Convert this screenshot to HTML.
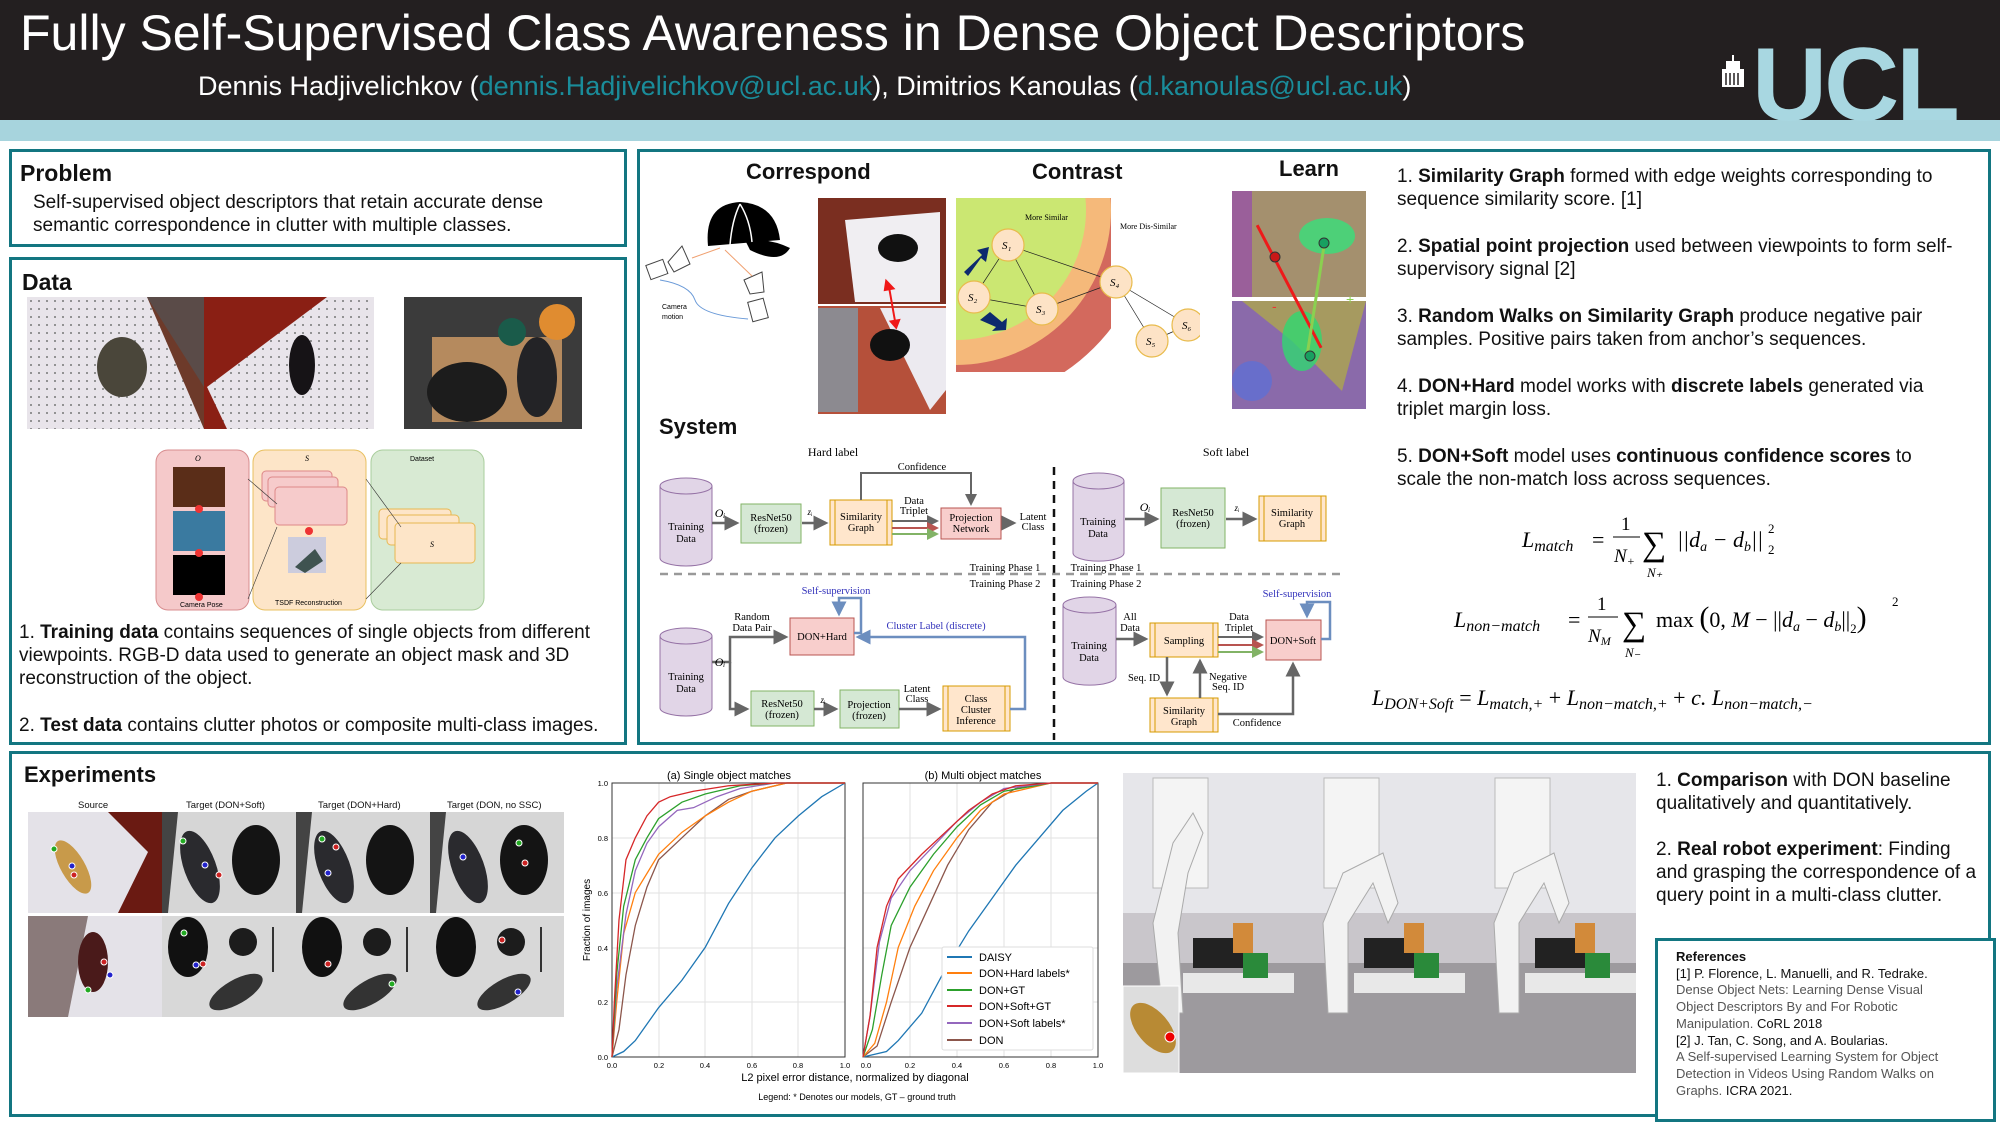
<!DOCTYPE html>
<html><head><meta charset="utf-8">
<style>
*{margin:0;padding:0;box-sizing:border-box}
body{width:2000px;height:1125px;overflow:hidden;background:#fff;font-family:"Liberation Sans",Arial,sans-serif;position:relative;color:#111}
.a{position:absolute}
.box{position:absolute;border:3px solid #137681;background:#fff}
.t{position:absolute;white-space:nowrap}
.h{font-weight:bold;font-size:23px}
.p{font-size:19px;line-height:23px;white-space:normal}
.m{font-family:"Liberation Serif",serif;font-style:italic}
a{color:#1a8c9a}
</style></head><body>
<!-- header -->
<div class="a" style="left:0;top:0;width:2000px;height:120px;background:#231f20"></div>
<div class="a" style="left:0;top:120px;width:2000px;height:21px;background:#a7d4dd"></div>
<div class="t" style="left:20px;top:4px;font-size:50px;color:#fff">Fully Self-Supervised Class Awareness in Dense Object Descriptors</div>
<div class="t" style="left:198px;top:71px;font-size:27px;color:#fff">Dennis Hadjivelichkov (<a>dennis.Hadjivelichkov@ucl.ac.uk</a>), Dimitrios Kanoulas (<a>d.kanoulas@ucl.ac.uk</a>)</div>
<div class="t" style="left:1752px;top:30px;font-size:104px;font-weight:bold;color:#a8d7e1;letter-spacing:-3px;line-height:110px">UCL</div>
<svg class="a" style="left:1720px;top:55px" width="26" height="32"><rect x="2" y="14" width="22" height="18" fill="#fff"/><rect x="6" y="6" width="14" height="9" fill="#fff"/><rect x="12" y="0" width="2" height="7" fill="#fff"/><g stroke="#231f20" stroke-width="1.5"><line x1="6" y1="18" x2="6" y2="30"/><line x1="10" y1="18" x2="10" y2="30"/><line x1="14" y1="18" x2="14" y2="30"/><line x1="18" y1="18" x2="18" y2="30"/></g></svg>

<!-- Problem -->
<div class="box" style="left:9px;top:149px;width:618px;height:98px"></div>
<div class="t h" style="left:20px;top:160px">Problem</div>
<div class="t p" style="left:33px;top:191px">Self-supervised object descriptors that retain accurate dense<br>semantic correspondence in clutter with multiple classes.</div>

<!-- Data -->
<div class="box" style="left:9px;top:257px;width:618px;height:488px"></div>
<div class="t h" style="left:22px;top:269px">Data</div>
<svg class="a" style="left:27px;top:297px" width="560" height="134">
 <defs><pattern id="dots" width="8" height="8" patternUnits="userSpaceOnUse"><rect width="8" height="8" fill="#e8e4ea"/><circle cx="4" cy="4" r="1" fill="#777"/></pattern></defs>
 <rect x="0" y="0" width="177" height="132" fill="#6d3a2a"/>
 <polygon points="0,0 120,0 177,132 0,132" fill="url(#dots)"/>
 <polygon points="120,0 177,0 177,90" fill="#5a4b48"/>
 <ellipse cx="95" cy="70" rx="25" ry="30" fill="#4a463a"/>
 <rect x="177" y="0" width="170" height="132" fill="#8a1f14"/>
 <polygon points="180,90 300,0 347,0 347,132 200,132" fill="url(#dots)"/>
 <ellipse cx="275" cy="68" rx="13" ry="30" fill="#161316"/>
 <rect x="377" y="0" width="178" height="132" fill="#3b3b3b"/>
 <rect x="405" y="40" width="130" height="85" fill="#b58a5e"/>
 <ellipse cx="440" cy="95" rx="40" ry="30" fill="#1c1c1c"/>
 <ellipse cx="510" cy="80" rx="20" ry="40" fill="#232326"/>
 <circle cx="530" cy="25" r="18" fill="#e08c30"/><circle cx="485" cy="35" r="14" fill="#1a5b4a"/>
</svg>
<svg class="a" style="left:155px;top:449px" width="332" height="164" font-family="Liberation Sans" font-size="8">
 <rect x="1" y="1" width="93" height="160" rx="12" fill="#f5c9ca" stroke="#d88d8f"/>
 <rect x="98" y="1" width="113" height="160" rx="12" fill="#fde5c8" stroke="#e8c060"/>
 <rect x="216" y="1" width="113" height="160" rx="12" fill="#d8ead3" stroke="#a9cd9c"/>
 <rect x="18" y="18" width="52" height="40" fill="#5a2d18"/><rect x="18" y="62" width="52" height="40" fill="#3a7aa0"/><rect x="18" y="106" width="52" height="40" fill="#000"/>
 <circle cx="44" cy="60" r="4" fill="#e33"/><circle cx="44" cy="104" r="4" fill="#e33"/><circle cx="44" cy="148" r="4" fill="#e33"/>
 <text x="25" y="158" font-size="7">Camera Pose</text><text x="40" y="12" class="m">O</text>
 <rect x="107" y="22" width="70" height="30" rx="4" fill="#f6cbcb" stroke="#d88"/><rect x="113" y="28" width="70" height="30" rx="4" fill="#f6cbcb" stroke="#d88"/><rect x="120" y="38" width="72" height="38" rx="4" fill="#f6cbcb" stroke="#d88"/>
 <rect x="133" y="88" width="38" height="36" fill="#ccd"/><polygon points="140,118 160,100 168,112 150,124" fill="#3f5350"/>
 <text x="120" y="156" font-size="7">TSDF Reconstruction</text><text x="150" y="12" class="m">S</text>
 <circle cx="154" cy="82" r="4" fill="#e33"/>
 <rect x="224" y="60" width="72" height="30" rx="4" fill="#fde5c8" stroke="#e8b850"/><rect x="232" y="66" width="72" height="30" rx="4" fill="#fde5c8" stroke="#e8b850"/><rect x="240" y="74" width="80" height="40" rx="4" fill="#fde5c8" stroke="#e8b850"/>
 <text x="255" y="12" font-size="7">Dataset</text><text x="275" y="98" class="m">S</text>
 <g stroke="#333" stroke-width="0.6"><line x1="93" y1="30" x2="122" y2="55"/><line x1="93" y1="150" x2="122" y2="78"/><line x1="211" y1="30" x2="246" y2="78"/><line x1="211" y1="150" x2="246" y2="114"/></g>
</svg>
<div class="t p" style="left:19px;top:621px;width:600px">1. <b>Training data</b> contains sequences of single objects from different viewpoints. RGB-D data used to generate an object mask and 3D reconstruction of the object.</div>
<div class="t p" style="left:19px;top:714px">2. <b>Test data</b> contains clutter photos or composite multi-class images.</div>

<!-- Middle -->
<div class="box" style="left:637px;top:149px;width:1354px;height:596px"></div>
<div class="t" style="left:746px;top:159px;font-size:22px;font-weight:bold">Correspond</div>
<div class="t" style="left:1032px;top:159px;font-size:22px;font-weight:bold">Contrast</div>
<div class="t" style="left:1279px;top:156px;font-size:22px;font-weight:bold">Learn</div>
<svg class="a" style="left:640px;top:190px" width="560" height="230" font-family="Liberation Sans">
 <path d="M68,56 Q64,14 100,12 Q136,14 140,50 Z" fill="#000"/><path d="M105,50 Q130,48 150,58 Q140,75 110,60 Z" fill="#000"/>
 <g stroke="#fff" stroke-width="1.5" fill="none"><path d="M100,14 Q92,30 90,55"/><path d="M100,14 Q110,30 112,52"/></g>
 <g fill="none" stroke="#444" stroke-width="1"><rect x="8" y="72" width="18" height="15" transform="rotate(-20 17 80)"/><polygon points="28,72 42,56 50,74 34,82"/><polygon points="104,90 122,82 124,102 110,104"/><rect x="110" y="110" width="16" height="20" transform="rotate(-15 118 120)"/></g>
 <path d="M20,90 Q50,95 55,110 Q60,125 108,129" fill="none" stroke="#6a9ad8"/>
 <line x1="52" y1="68" x2="80" y2="58" stroke="#f0a070"/><line x1="112" y1="86" x2="85" y2="60" stroke="#f0a070"/>
 <text x="22" y="119" font-size="7">Camera</text><text x="22" y="129" font-size="7">motion</text>
 <rect x="178" y="8" width="128" height="106" fill="#7a2e20"/><polygon points="205,30 300,22 300,112 215,112" fill="#f0eef2"/><ellipse cx="258" cy="58" rx="20" ry="14" fill="#111"/>
 <rect x="178" y="116" width="128" height="108" fill="#b5503a"/><polygon points="240,118 306,118 306,200 290,220" fill="#eceaf0"/><rect x="178" y="118" width="40" height="104" fill="#8c8a90"/><ellipse cx="250" cy="155" rx="20" ry="16" fill="#111"/>
 <polygon points="250,88 246,100 251,100 251,130 246,130 252,140 258,130 253,130 253,100 258,100" fill="#f01818" transform="rotate(-10 252 114)"/>
 <rect x="315" y="8" width="245" height="175" fill="#fff"/>
 <clipPath id="cc"><rect x="316" y="8" width="155" height="174"/></clipPath>
 <g clip-path="url(#cc)"><circle cx="316" cy="20" r="195" fill="#d3695d"/><circle cx="316" cy="20" r="155" fill="#f5b97a"/><circle cx="316" cy="20" r="130" fill="#cbe772"/></g>
 <text x="385" y="30" font-family="Liberation Serif" font-size="8">More Similar</text><text x="480" y="39" font-family="Liberation Serif" font-size="8">More Dis-Similar</text>
 <g stroke="#222" stroke-width="0.7"><line x1="368" y1="55" x2="334" y2="107"/><line x1="368" y1="55" x2="402" y2="119"/><line x1="368" y1="55" x2="476" y2="92"/><line x1="334" y1="107" x2="402" y2="119"/><line x1="402" y1="119" x2="476" y2="92"/><line x1="476" y1="92" x2="512" y2="151"/><line x1="476" y1="92" x2="548" y2="135"/><line x1="512" y1="151" x2="548" y2="135"/></g>
 <g fill="#fde3c6" stroke="#e8bb4c" stroke-width="1.2"><circle cx="368" cy="55" r="16"/><circle cx="334" cy="107" r="16"/><circle cx="402" cy="119" r="16"/><circle cx="476" cy="92" r="16"/><circle cx="512" cy="151" r="16"/><circle cx="548" cy="135" r="16"/></g>
 <g font-family="Liberation Serif" font-style="italic" font-size="11"><text x="362" y="59">S₁</text><text x="328" y="111">S₂</text><text x="396" y="123">S₃</text><text x="470" y="96">S₄</text><text x="506" y="155">S₅</text><text x="542" y="139">S₆</text></g>
 <polygon points="330,82 348,65 343,60 355,57 352,72 347,68 334,86" fill="#0d2a6e" transform="translate(-6,0)"/>
 <polygon points="340,130 350,122 362,132 367,128 366,140 352,141 356,137" fill="#0d2a6e"/>
</svg>
<svg class="a" style="left:1232px;top:191px" width="134" height="218">
 <rect x="0" y="0" width="134" height="106" fill="#a4906e"/><rect x="0" y="0" width="20" height="106" fill="#9a5f9a"/><ellipse cx="95" cy="45" rx="28" ry="18" fill="#37e07a" opacity="0.8"/>
 <rect x="0" y="110" width="134" height="108" fill="#8a6aaa"/><polygon points="10,110 134,110 110,200 60,150" fill="#a69a60"/><ellipse cx="70" cy="150" rx="20" ry="30" fill="#30d870" opacity="0.8"/><ellipse cx="20" cy="190" rx="20" ry="20" fill="#5a70d8" opacity="0.7"/>
 <line x1="42" y1="28" x2="72" y2="163" stroke="#ee1a1a" stroke-width="3" transform="rotate(-15 57 95)"/>
 <line x1="75" y1="165" x2="92" y2="55" stroke="#8bd050" stroke-width="3"/>
 <circle cx="43" cy="66" r="5" fill="#c81818" stroke="#333"/><circle cx="92" cy="52" r="5" fill="#18a060" stroke="#333"/><circle cx="78" cy="165" r="5" fill="#18a060" stroke="#333"/>
 <text x="40" y="120" fill="#e33" font-size="14">-</text><text x="114" y="113" fill="#8bd050" font-size="14">+</text>
</svg>
<div class="t" style="left:659px;top:414px;font-size:22px;font-weight:bold">System</div>

<!-- system diagram -->
<svg class="a" style="left:0;top:0" width="1400" height="750" font-family="Liberation Serif" font-size="10.5" text-anchor="middle">
 <defs><marker id="ag" markerWidth="6" markerHeight="6" refX="5" refY="3" orient="auto"><path d="M0,0 L6,3 L0,6z" fill="#666"/></marker>
 <marker id="ab" markerWidth="6" markerHeight="6" refX="5" refY="3" orient="auto"><path d="M0,0 L6,3 L0,6z" fill="#6c8ebf"/></marker>
 <marker id="ar" markerWidth="6" markerHeight="6" refX="5" refY="3" orient="auto"><path d="M0,0 L6,3 L0,6z" fill="#b85450"/></marker>
 <marker id="agr" markerWidth="6" markerHeight="6" refX="5" refY="3" orient="auto"><path d="M0,0 L6,3 L0,6z" fill="#82b366"/></marker></defs>
 <text x="833" y="456" font-size="12">Hard label</text><text x="1226" y="456" font-size="12">Soft label</text>
 <line x1="1054" y1="467" x2="1054" y2="740" stroke="#111" stroke-width="2.5" stroke-dasharray="8,6"/>
 <line x1="660" y1="574" x2="1340" y2="574" stroke="#999" stroke-width="2.5" stroke-dasharray="8,6"/>
 <text x="1005" y="571">Training Phase 1</text><text x="1005" y="587">Training Phase 2</text>
 <text x="1106" y="571">Training Phase 1</text><text x="1106" y="587">Training Phase 2</text>
 <g fill="#e1d5e7" stroke="#9673a6">
  <path d="M660,486 v72 a26,8 0 0 0 52,0 v-72"/><ellipse cx="686" cy="486" rx="26" ry="8"/>
  <path d="M1073,481 v72 a25,8 0 0 0 51,0 v-72"/><ellipse cx="1098.5" cy="481" rx="25.5" ry="8"/>
  <path d="M660,636 v72 a26,8 0 0 0 52,0 v-72"/><ellipse cx="686" cy="636" rx="26" ry="8"/>
  <path d="M1063,605 v72 a26,8 0 0 0 53,0 v-72"/><ellipse cx="1089.5" cy="605" rx="26.5" ry="8"/>
 </g>
 <text x="686" y="530">Training</text><text x="686" y="542">Data</text>
 <text x="1098" y="525">Training</text><text x="1098" y="537">Data</text>
 <text x="686" y="680">Training</text><text x="686" y="692">Data</text>
 <text x="1089" y="649">Training</text><text x="1089" y="661">Data</text>
 <g fill="#d5e8d4" stroke="#82b366"><rect x="741" y="504" width="60" height="39"/><rect x="1161" y="488" width="64" height="60"/><rect x="751" y="691" width="63" height="35"/><rect x="840" y="690" width="59" height="38"/></g>
 <g fill="#ffe6cc" stroke="#d79b00"><rect x="830" y="500" width="62" height="45"/><rect x="1259" y="496" width="67" height="45"/><rect x="943" y="686" width="67" height="45"/><rect x="1150" y="623" width="68" height="34"/><rect x="1150" y="698" width="68" height="34"/></g>
 <g stroke="#d79b00" fill="none"><path d="M835,500v45M887,500v45M1264,496v45M1321,496v45M948,686v45M1005,686v45M1155,623v34M1213,623v34M1155,698v34M1213,698v34"/></g>
 <g fill="#f8cecc" stroke="#b85450"><rect x="941" y="508" width="60" height="31"/><rect x="790" y="618" width="64" height="37"/><rect x="1266" y="620" width="55" height="40"/></g>
 <text x="771" y="521">ResNet50</text><text x="771" y="532">(frozen)</text>
 <text x="861" y="520">Similarity</text><text x="861" y="531">Graph</text>
 <text x="971" y="521">Projection</text><text x="971" y="532">Network</text>
 <text x="1193" y="516">ResNet50</text><text x="1193" y="527">(frozen)</text>
 <text x="1292" y="516">Similarity</text><text x="1292" y="527">Graph</text>
 <text x="822" y="640">DON+Hard</text>
 <text x="782" y="707">ResNet50</text><text x="782" y="718">(frozen)</text>
 <text x="869" y="708">Projection</text><text x="869" y="719">(frozen)</text>
 <text x="976" y="702">Class</text><text x="976" y="713">Cluster</text><text x="976" y="724">Inference</text>
 <text x="1184" y="644">Sampling</text><text x="1293" y="644">DON+Soft</text>
 <text x="1184" y="714">Similarity</text><text x="1184" y="725">Graph</text>
 <g stroke="#666" stroke-width="3" fill="none">
  <line x1="712" y1="523" x2="737" y2="523" marker-end="url(#ag)" stroke-width="2.5"/>
  <line x1="802" y1="523" x2="826" y2="523" marker-end="url(#ag)" stroke-width="2.5"/>
  <path d="M861,500 V473 H971 V504" marker-end="url(#ag)" stroke-width="2"/>
  <line x1="892" y1="521" x2="937" y2="521" marker-end="url(#ag)" stroke-width="2"/>
  <line x1="1002" y1="523" x2="1014" y2="523" marker-end="url(#ag)" stroke-width="2.5"/>
  <line x1="1125" y1="519" x2="1157" y2="519" marker-end="url(#ag)" stroke-width="2.5"/>
  <line x1="1226" y1="519" x2="1255" y2="519" marker-end="url(#ag)" stroke-width="2.5"/>
  <path d="M712,662 H730 V637 H786" marker-end="url(#ag)" stroke-width="2.5"/>
  <path d="M730,662 V709 H747" marker-end="url(#ag)" stroke-width="2.5"/>
  <line x1="814" y1="709" x2="836" y2="709" marker-end="url(#ag)" stroke-width="2.5"/>
  <line x1="899" y1="709" x2="939" y2="709" marker-end="url(#ag)" stroke-width="2.5"/>
  <line x1="1116" y1="639" x2="1146" y2="639" marker-end="url(#ag)" stroke-width="2.5"/>
  <line x1="1218" y1="637" x2="1262" y2="637" marker-end="url(#ag)" stroke-width="2"/>
  <line x1="1167" y1="657" x2="1167" y2="694" marker-end="url(#ag)" stroke-width="2.5"/>
  <line x1="1200" y1="698" x2="1200" y2="661" marker-end="url(#ag)" stroke-width="2.5"/>
  <path d="M1218,714 H1293 V664" marker-end="url(#ag)" stroke-width="2.5"/>
 </g>
 <line x1="892" y1="528" x2="937" y2="528" stroke="#b85450" stroke-width="2" marker-end="url(#ar)"/>
 <line x1="892" y1="534" x2="937" y2="534" stroke="#82b366" stroke-width="2" marker-end="url(#agr)"/>
 <line x1="1218" y1="645" x2="1262" y2="645" stroke="#b85450" stroke-width="2" marker-end="url(#ar)"/>
 <line x1="1218" y1="652" x2="1262" y2="652" stroke="#82b366" stroke-width="2" marker-end="url(#agr)"/>
 <g stroke="#6c8ebf" stroke-width="2.5" fill="none">
  <path d="M854,633 H861 V598 H839 V614" marker-end="url(#ab)"/>
  <path d="M1010,709 H1025 V637 H858" marker-end="url(#ab)"/>
  <path d="M1321,639 H1330 V602 H1307 V616" marker-end="url(#ab)"/>
 </g>
 <g fill="#3333bb"><text x="836" y="594">Self-supervision</text><text x="936" y="629">Cluster Label (discrete)</text><text x="1297" y="597">Self-supervision</text></g>
 <text x="922" y="470">Confidence</text>
 <text x="914" y="504">Data</text><text x="914" y="514">Triplet</text>
 <text x="1033" y="520">Latent</text><text x="1033" y="530">Class</text>
 <text x="752" y="620">Random</text><text x="752" y="631">Data Pair</text>
 <text x="917" y="692">Latent</text><text x="917" y="702">Class</text>
 <text x="1130" y="620">All</text><text x="1130" y="631">Data</text>
 <text x="1239" y="620">Data</text><text x="1239" y="631">Triplet</text>
 <text x="1144" y="681">Seq. ID</text><text x="1228" y="680">Negative</text><text x="1228" y="690">Seq. ID</text>
 <text x="1257" y="726">Confidence</text>
 <g font-style="italic" font-size="12"><text x="720" y="517">Oᵢ</text><text x="1145" y="511">Oᵢ</text><text x="720" y="666">Oᵢ</text></g>
 <g font-style="italic" font-size="9"><text x="810" y="515">zᵢ</text><text x="1237" y="511">zᵢ</text><text x="823" y="703">zᵢ</text></g>
</svg>

<!-- right text -->
<div class="t p" style="left:1397px;top:165px;width:565px">1. <b>Similarity Graph</b> formed with edge weights corresponding to sequence similarity score. [1]</div>
<div class="t p" style="left:1397px;top:235px;width:575px">2. <b>Spatial point projection</b> used between viewpoints to form self-supervisory signal [2]</div>
<div class="t p" style="left:1397px;top:305px;width:565px">3. <b>Random Walks on Similarity Graph</b> produce negative pair samples. Positive pairs taken from anchor’s sequences.</div>
<div class="t p" style="left:1397px;top:375px;width:545px">4. <b>DON+Hard</b> model works with <b>discrete labels</b> generated via triplet margin loss.</div>
<div class="t p" style="left:1397px;top:445px;width:545px">5. <b>DON+Soft</b> model uses <b>continuous confidence scores</b> to scale the non-match loss across sequences.</div>
<svg class="a" style="left:1370px;top:500px" width="620" height="220" font-family="Liberation Serif" font-size="22">
 <text x="152" y="47" font-style="italic">L<tspan font-size="16" dy="4">match</tspan></text>
 <text x="222" y="47">=</text>
 <text x="251" y="30" font-size="19">1</text><line x1="243" y1="37" x2="270" y2="37" stroke="#000"/><text x="244" y="62" font-style="italic" font-size="19">N<tspan font-size="12" dy="3">+</tspan></text>
 <text x="272" y="55" font-size="34">∑</text><text x="277" y="77" font-style="italic" font-size="13">N₊</text>
 <text x="307" y="47" font-style="italic">||d<tspan font-size="14" dy="4">a</tspan><tspan dy="-4"> − d</tspan><tspan font-size="14" dy="4">b</tspan><tspan dy="-4">||</tspan></text>
 <text x="398" y="33" font-size="13">2</text><text x="398" y="54" font-size="13">2</text>
 <text x="84" y="127" font-style="italic">L<tspan font-size="16" dy="4">non−match</tspan></text>
 <text x="198" y="127">=</text>
 <text x="227" y="110" font-size="19">1</text><line x1="218" y1="117" x2="248" y2="117" stroke="#000"/><text x="218" y="142" font-style="italic" font-size="19">N<tspan font-size="12" dy="3">M</tspan></text>
 <text x="252" y="135" font-size="34">∑</text><text x="255" y="157" font-style="italic" font-size="13">N₋</text>
 <text x="286" y="127">max <tspan font-size="30">(</tspan>0, <tspan font-style="italic">M</tspan> − ||<tspan font-style="italic">d</tspan><tspan font-size="14" dy="4" font-style="italic">a</tspan><tspan dy="-4"> − </tspan><tspan font-style="italic">d</tspan><tspan font-size="14" dy="4" font-style="italic">b</tspan><tspan dy="-4">||</tspan><tspan font-size="13" dy="6">2</tspan><tspan font-size="30" dy="-6">)</tspan></text>
 <text x="522" y="106" font-size="13">2</text>
 <text x="2" y="205" font-style="italic">L<tspan font-size="16" dy="4">DON+Soft</tspan><tspan dy="-4" font-style="normal"> = </tspan>L<tspan font-size="16" dy="4">match,+</tspan><tspan dy="-4" font-style="normal"> + </tspan>L<tspan font-size="16" dy="4">non−match,+</tspan><tspan dy="-4" font-style="normal"> + </tspan>c. L<tspan font-size="16" dy="4">non−match,−</tspan></text>
</svg>

<!-- Experiments -->
<div class="box" style="left:9px;top:751px;width:1982px;height:366px"></div>
<div class="t" style="left:24px;top:762px;font-size:22px;font-weight:bold">Experiments</div>
<div class="t" style="left:78px;top:800px;font-size:9.5px">Source</div>
<div class="t" style="left:186px;top:800px;font-size:9.5px">Target (DON+Soft)</div>
<div class="t" style="left:318px;top:800px;font-size:9.5px">Target (DON+Hard)</div>
<div class="t" style="left:447px;top:800px;font-size:9.5px">Target (DON, no SSC)</div>
<svg class="a" style="left:28px;top:812px" width="536" height="206">
 <rect x="0" y="0" width="134" height="101" fill="#e4e2e8"/><polygon points="80,0 134,0 134,101 90,101 120,40" fill="#6a1a12"/><ellipse cx="45" cy="55" rx="12" ry="30" fill="#c89a4a" transform="rotate(-30 45 55)"/>
 <rect x="0" y="104" width="134" height="101" fill="#e4e2e8"/><polygon points="0,104 60,104 40,205 0,205" fill="#8a7a7a"/><ellipse cx="65" cy="150" rx="15" ry="30" fill="#4a1a1a"/>
 <g id="tg"><rect x="134" y="0" width="134" height="101" fill="#d6d6d6"/><polygon points="134,0 150,0 140,101 134,101" fill="#444"/><ellipse cx="172" cy="55" rx="16" ry="38" fill="#2a2a2e" transform="rotate(-20 172 55)"/><ellipse cx="228" cy="48" rx="24" ry="35" fill="#141414"/></g>
 <use href="#tg" x="134"/><use href="#tg" x="268"/>
 <g id="tg2"><rect x="134" y="104" width="134" height="101" fill="#d8d8d8"/><ellipse cx="160" cy="135" rx="20" ry="30" fill="#111"/><circle cx="215" cy="130" r="14" fill="#1c1c1c"/><ellipse cx="208" cy="180" rx="30" ry="12" fill="#333" transform="rotate(-30 208 180)"/><line x1="245" y1="115" x2="245" y2="160" stroke="#333" stroke-width="2"/></g>
 <use href="#tg2" x="134"/><use href="#tg2" x="268"/>
 <g stroke="#fff" stroke-width="1"><circle cx="26" cy="37" r="3" fill="#2a2"/><circle cx="44" cy="54" r="3" fill="#22c"/><circle cx="46" cy="63" r="3" fill="#c22"/><circle cx="155" cy="29" r="3" fill="#2a2"/><circle cx="177" cy="53" r="3" fill="#22c"/><circle cx="191" cy="63" r="3" fill="#c22"/><circle cx="294" cy="27" r="3" fill="#2a2"/><circle cx="308" cy="35" r="3" fill="#c22"/><circle cx="300" cy="61" r="3" fill="#22c"/><circle cx="491" cy="31" r="3" fill="#2a2"/><circle cx="435" cy="45" r="3" fill="#22c"/><circle cx="497" cy="51" r="3" fill="#c22"/><circle cx="76" cy="150" r="3" fill="#c22"/><circle cx="82" cy="163" r="3" fill="#22c"/><circle cx="60" cy="178" r="3" fill="#2a2"/><circle cx="156" cy="121" r="3" fill="#2a2"/><circle cx="168" cy="153" r="3" fill="#22c"/><circle cx="175" cy="152" r="3" fill="#c22"/><circle cx="300" cy="152" r="3" fill="#c22"/><circle cx="364" cy="172" r="3" fill="#2a2"/><circle cx="474" cy="128" r="3" fill="#c22"/><circle cx="490" cy="180" r="3" fill="#22c"/></g>
</svg>
<!-- charts -->
<svg class="a" style="left:0;top:0" width="1110" height="1125" font-family="Liberation Sans" font-size="8">
 <text x="729" y="779" font-size="11" text-anchor="middle">(a) Single object matches</text>
 <text x="983" y="779" font-size="11" text-anchor="middle">(b) Multi object matches</text>
 <g stroke="#e2e2e2" stroke-width="1">
  <path d="M612,1002H845M612,948H845M612,893H845M612,838H845M659,783V1057M705,783V1057M752,783V1057M798,783V1057"/>
  <path d="M863,1002H1098M863,948H1098M863,893H1098M863,838H1098M910,783V1057M957,783V1057M1004,783V1057M1051,783V1057"/>
 </g>
 <rect x="612" y="783" width="233" height="274" fill="none" stroke="#333"/>
 <rect x="863" y="783" width="235" height="274" fill="none" stroke="#333"/>
 <g font-size="7.5" text-anchor="end"><text x="608" y="786">1.0</text><text x="608" y="841">0.8</text><text x="608" y="896">0.6</text><text x="608" y="951">0.4</text><text x="608" y="1005">0.2</text><text x="608" y="1060">0.0</text></g>
 <g font-size="7.5" text-anchor="middle"><text x="612" y="1068">0.0</text><text x="659" y="1068">0.2</text><text x="705" y="1068">0.4</text><text x="752" y="1068">0.6</text><text x="798" y="1068">0.8</text><text x="845" y="1068">1.0</text><text x="866" y="1068">0.0</text><text x="910" y="1068">0.2</text><text x="957" y="1068">0.4</text><text x="1004" y="1068">0.6</text><text x="1051" y="1068">0.8</text><text x="1098" y="1068">1.0</text></g>
 <text x="590" y="920" font-size="10" text-anchor="middle" transform="rotate(-90 590 920)">Fraction of images</text>
 <text x="855" y="1081" font-size="11" text-anchor="middle">L2 pixel error distance, normalized by diagonal</text>
 <text x="857" y="1100" font-size="9" text-anchor="middle">Legend:  * Denotes  our models,  GT – ground truth</text>
 <g fill="none" stroke-width="1.3">
 <g transform="translate(612,1057) scale(233,-274)">
  <polyline vector-effect="non-scaling-stroke" stroke="#1f77b4" points="0,0 0.05,0.02 0.1,0.06 0.2,0.18 0.3,0.28 0.4,0.4 0.5,0.56 0.6,0.69 0.7,0.8 0.8,0.88 0.9,0.95 1,1"/>
  <polyline vector-effect="non-scaling-stroke" stroke="#8c564b" points="0,0 0.03,0.1 0.06,0.3 0.1,0.48 0.15,0.62 0.2,0.72 0.3,0.8 0.4,0.88 0.5,0.94 0.6,0.97 0.75,1 1,1"/>
  <polyline vector-effect="non-scaling-stroke" stroke="#ff7f0e" points="0,0 0.02,0.2 0.05,0.45 0.1,0.6 0.2,0.74 0.3,0.82 0.4,0.88 0.5,0.93 0.6,0.97 0.75,1 1,1"/>
  <polyline vector-effect="non-scaling-stroke" stroke="#9467bd" points="0,0 0.02,0.25 0.06,0.52 0.1,0.68 0.15,0.78 0.2,0.84 0.28,0.9 0.35,0.91 0.45,0.95 0.55,0.98 0.7,1 1,1"/>
  <polyline vector-effect="non-scaling-stroke" stroke="#2ca02c" points="0,0 0.02,0.3 0.05,0.55 0.1,0.72 0.15,0.8 0.2,0.87 0.3,0.93 0.4,0.96 0.55,0.99 0.7,1 1,1"/>
  <polyline vector-effect="non-scaling-stroke" stroke="#d62728" points="0,0 0.01,0.2 0.03,0.5 0.06,0.72 0.1,0.8 0.15,0.88 0.2,0.93 0.25,0.95 0.35,0.97 0.5,0.99 0.7,1 1,1"/>
 </g>
 <g transform="translate(863,1057) scale(235,-274)">
  <polyline vector-effect="non-scaling-stroke" stroke="#1f77b4" points="0,0 0.1,0.02 0.15,0.06 0.25,0.16 0.35,0.32 0.45,0.46 0.55,0.58 0.65,0.7 0.75,0.8 0.85,0.9 0.95,0.97 1,1"/>
  <polyline vector-effect="non-scaling-stroke" stroke="#8c564b" points="0,0 0.06,0.04 0.12,0.2 0.2,0.4 0.28,0.55 0.36,0.7 0.45,0.83 0.55,0.93 0.65,0.98 0.8,1 1,1"/>
  <polyline vector-effect="non-scaling-stroke" stroke="#ff7f0e" points="0,0 0.05,0.05 0.1,0.2 0.15,0.4 0.22,0.55 0.3,0.68 0.4,0.8 0.5,0.9 0.6,0.96 0.8,1 1,1"/>
  <polyline vector-effect="non-scaling-stroke" stroke="#2ca02c" points="0,0 0.04,0.1 0.08,0.3 0.12,0.48 0.2,0.62 0.3,0.74 0.4,0.84 0.5,0.92 0.6,0.97 0.8,1 1,1"/>
  <polyline vector-effect="non-scaling-stroke" stroke="#9467bd" points="0,0 0.03,0.15 0.07,0.42 0.12,0.58 0.2,0.68 0.3,0.77 0.4,0.86 0.5,0.93 0.6,0.98 0.8,1 1,1"/>
  <polyline vector-effect="non-scaling-stroke" stroke="#d62728" points="0,0 0.03,0.15 0.06,0.4 0.1,0.55 0.15,0.65 0.25,0.74 0.35,0.82 0.45,0.9 0.55,0.96 0.65,0.99 0.8,1 1,1"/>
 </g></g>
 <rect x="942" y="947" width="151" height="103" fill="#fff" stroke="#ddd" rx="2"/>
 <g stroke-width="2"><line x1="947" y1="957" x2="972" y2="957" stroke="#1f77b4"/><line x1="947" y1="973" x2="972" y2="973" stroke="#ff7f0e"/><line x1="947" y1="990" x2="972" y2="990" stroke="#2ca02c"/><line x1="947" y1="1006" x2="972" y2="1006" stroke="#d62728"/><line x1="947" y1="1023" x2="972" y2="1023" stroke="#9467bd"/><line x1="947" y1="1040" x2="972" y2="1040" stroke="#8c564b"/></g>
 <g font-size="11"><text x="979" y="961">DAISY</text><text x="979" y="977">DON+Hard labels*</text><text x="979" y="994">DON+GT</text><text x="979" y="1010">DON+Soft+GT</text><text x="979" y="1027">DON+Soft labels*</text><text x="979" y="1044">DON</text></g>
</svg>
<!-- robot photos -->
<svg class="a" style="left:1123px;top:773px" width="513" height="300">
 <g id="rp"><rect x="0" y="0" width="171" height="300" fill="#c9c6cb"/><rect x="0" y="0" width="171" height="140" fill="#e6e6ea"/><rect x="30" y="5" width="55" height="110" fill="#f4f4f4" stroke="#bbb"/><rect x="0" y="190" width="171" height="110" fill="#9d9a9e"/><rect x="60" y="200" width="111" height="20" fill="#e8e8e8"/><rect x="70" y="165" width="60" height="30" fill="#222"/><rect x="120" y="180" width="25" height="25" fill="#2a8a3a"/><rect x="110" y="150" width="20" height="30" fill="#d28a3a"/></g>
 <use href="#rp" x="171"/><use href="#rp" x="342"/>
 <g fill="#f2f2f2" stroke="#aaa"><path d="M40,240 L30,150 L50,70 L70,40 L80,60 L65,100 L55,160 L60,240Z"/><path d="M205,240 L200,150 L220,100 L260,80 L275,130 L265,150 L250,110 L225,150 L225,240Z"/><path d="M376,240 L371,150 L391,100 L431,80 L446,130 L436,150 L421,110 L396,150 L396,240Z"/></g>
 <rect x="0" y="213" width="56" height="87" fill="#ddd" stroke="#fff"/><ellipse cx="30" cy="255" rx="16" ry="30" fill="#b88a34" transform="rotate(-40 30 255)"/><circle cx="47" cy="264" r="5" fill="#e00" stroke="#fff"/>
</svg>
<div class="t" style="left:1656px;top:769px;font-size:19px;line-height:23px">1. <b>Comparison</b> with DON baseline<br>qualitatively and quantitatively.</div>
<div class="t" style="left:1656px;top:838px;font-size:19px;line-height:23px">2. <b>Real robot experiment</b>: Finding<br>and grasping the correspondence of a<br>query point in a multi-class clutter.</div>
<div class="box" style="left:1655px;top:938px;width:341px;height:184px"></div>
<div class="t" style="left:1676px;top:949px;font-size:13px;line-height:16.7px"><b>References</b><br>[1] P. Florence, L. Manuelli, and R. Tedrake.<br><span style="color:#555">Dense Object Nets: Learning Dense Visual<br>Object Descriptors By and For Robotic<br>Manipulation.</span> CoRL 2018<br>[2] J. Tan, C. Song, and A. Boularias.<br><span style="color:#555">A Self-supervised Learning System for Object<br>Detection in Videos Using Random Walks on<br>Graphs.</span> ICRA 2021.</div>
</body></html>
